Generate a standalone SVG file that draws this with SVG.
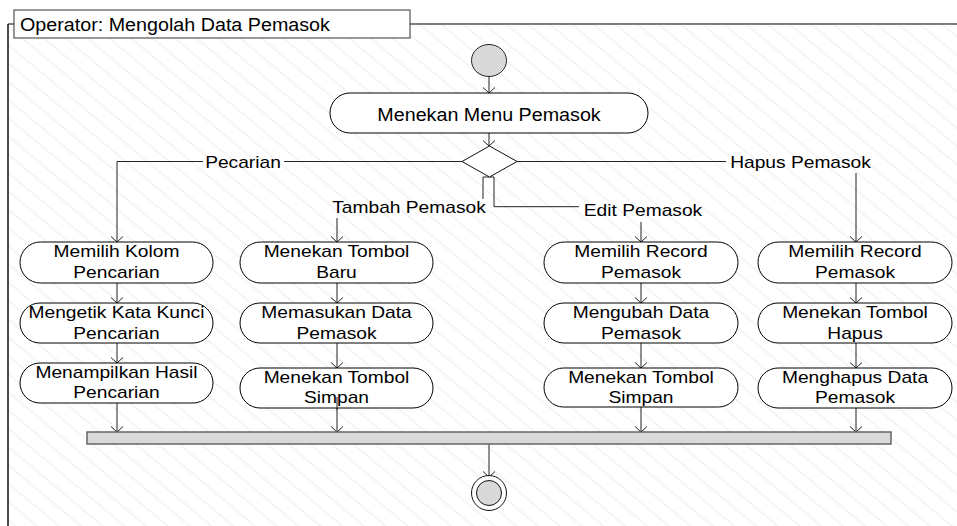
<svg xmlns="http://www.w3.org/2000/svg" width="957" height="526" viewBox="0 0 957 526">
<defs>
<pattern id="hatch" width="10" height="14" patternUnits="userSpaceOnUse" patternTransform="rotate(40)">
<line x1="0" y1="1" x2="10" y2="1" stroke="#efefef" stroke-width="1.2"/>
</pattern>
<marker id="arr" markerUnits="userSpaceOnUse" markerWidth="14" markerHeight="14" viewBox="-7 -7 14 14" refX="0" refY="0" orient="auto">
<path d="M-5.5,-6 L0,0 L-5.5,6" fill="none" stroke="#222" stroke-width="1"/>
</marker>
<style>
.node{fill:#fff;stroke:#000;stroke-width:1}
.big{font-family:"Liberation Sans",Arial,sans-serif;font-size:18.5px;fill:#000}
.sm{font-family:"Liberation Sans",Arial,sans-serif;font-size:16px;fill:#000;text-anchor:middle}
.con{fill:none;stroke:#222;stroke-width:1}
.arrow{marker-end:url(#arr)}
</style>
</defs>
<rect x="0" y="0" width="957" height="526" fill="#fff"/>
<rect x="8" y="24" width="949" height="502" fill="url(#hatch)"/>
<g id="frame">
<line x1="8" y1="24" x2="957" y2="24" stroke="#555" stroke-width="1.6"/>
<line x1="8" y1="24" x2="8" y2="526" stroke="#111" stroke-width="1.5"/>
<rect x="14" y="10" width="396" height="28" fill="#fff" stroke="#333" stroke-width="1"/>
<text class="big" transform="translate(20,0) scale(1.065,1)" x="0" y="31.5">Operator: Mengolah Data Pemasok</text>
</g>
<g id="connectors">
<line class="con arrow" x1="489" y1="76.5" x2="489" y2="93"/>
<line class="con arrow" x1="489" y1="133" x2="489" y2="146"/>
<polyline class="con" points="462,161.5 284,161.5"/>
<polyline class="con arrow" points="203,161.5 117,161.5 117,242"/>
<polyline class="con" points="517,161.5 726,161.5"/>
<line class="con arrow" x1="856" y1="173" x2="856" y2="242"/>
<polyline class="con" points="483,199 483,177 494,177 494,206.7 579,206.7"/>
<line class="con arrow" x1="337" y1="218" x2="337" y2="242"/>
<line class="con arrow" x1="641" y1="222" x2="641" y2="242"/>
<line class="con arrow" x1="117" y1="283" x2="117" y2="303"/>
<line class="con arrow" x1="117" y1="343" x2="117" y2="363"/>
<line class="con arrow" x1="117" y1="403" x2="117" y2="432"/>
<line class="con arrow" x1="337" y1="283" x2="337" y2="303"/>
<line class="con arrow" x1="337" y1="343" x2="337" y2="368"/>
<line class="con arrow" x1="337" y1="397" x2="337" y2="432"/>
<line class="con arrow" x1="641" y1="283" x2="641" y2="303"/>
<line class="con arrow" x1="641" y1="343" x2="641" y2="368"/>
<line class="con arrow" x1="641" y1="407" x2="641" y2="432"/>
<line class="con arrow" x1="856" y1="283" x2="856" y2="303"/>
<line class="con arrow" x1="856" y1="343" x2="856" y2="368"/>
<line class="con arrow" x1="856" y1="408" x2="856" y2="432"/>
<line class="con arrow" x1="489" y1="444" x2="489" y2="477"/>
<text class="sm" transform="translate(243,0) scale(1.2,1)" x="0" y="168">Pecarian</text>
<text class="sm" transform="translate(800.5,0) scale(1.2,1)" x="0" y="168">Hapus Pemasok</text>
<text class="sm" transform="translate(409,0) scale(1.2,1)" x="0" y="213.5">Tambah Pemasok</text>
<text class="sm" transform="translate(643,0) scale(1.2,1)" x="0" y="216.5">Edit Pemasok</text>
</g>
<g id="start"><ellipse cx="489" cy="60.5" rx="17.5" ry="16" fill="#d9d9d9" stroke="#222" stroke-width="1"/></g>
<g id="menu">
<rect class="node" x="330" y="93" width="318" height="40" rx="20" ry="20"/>
<text class="big" text-anchor="middle" transform="translate(489,0) scale(1.065,1)" x="0" y="121.5">Menekan Menu Pemasok</text>
</g>
<g id="decision"><polygon points="489.5,146 517,161.5 489.5,177 462,161.5" fill="#fff" stroke="#111" stroke-width="1"/></g>
<g id="n1a"><rect class="node" x="20" y="242" width="193" height="41" rx="20.5"/>
<text class="sm" transform="translate(116.5,0) scale(1.2,1)"><tspan x="0" y="257">Memilih Kolom</tspan><tspan x="0" y="278">Pencarian</tspan></text></g>
<g id="n1b"><rect class="node" x="20" y="303" width="193" height="40" rx="20"/>
<text class="sm" transform="translate(116.5,0) scale(1.2,1)"><tspan x="0" y="318">Mengetik Kata Kunci</tspan><tspan x="0" y="339">Pencarian</tspan></text></g>
<g id="n1c"><rect class="node" x="20" y="363" width="193" height="40" rx="20"/>
<text class="sm" transform="translate(116.5,0) scale(1.2,1)"><tspan x="0" y="378">Menampilkan Hasil</tspan><tspan x="0" y="398.5">Pencarian</tspan></text></g>
<g id="n2a"><rect class="node" x="240" y="242" width="193" height="41" rx="20.5"/>
<text class="sm" transform="translate(336.5,0) scale(1.2,1)"><tspan x="0" y="257">Menekan Tombol</tspan><tspan x="0" y="278">Baru</tspan></text></g>
<g id="n2b"><rect class="node" x="240" y="303" width="193" height="40" rx="20"/>
<text class="sm" transform="translate(336.5,0) scale(1.2,1)"><tspan x="0" y="318">Memasukan Data</tspan><tspan x="0" y="339">Pemasok</tspan></text></g>
<g id="n2c"><rect class="node" x="240" y="368" width="193" height="40" rx="20"/>
<text class="sm" transform="translate(336.5,0) scale(1.2,1)"><tspan x="0" y="383">Menekan Tombol</tspan><tspan x="0" y="403">Simpan</tspan></text></g>
<line class="con" x1="337" y1="397" x2="337" y2="410"/>
<g id="n3a"><rect class="node" x="544" y="242" width="194" height="41" rx="20.5"/>
<text class="sm" transform="translate(641,0) scale(1.2,1)"><tspan x="0" y="257">Memilih Record</tspan><tspan x="0" y="278">Pemasok</tspan></text></g>
<g id="n3b"><rect class="node" x="544" y="303" width="194" height="40" rx="20"/>
<text class="sm" transform="translate(641,0) scale(1.2,1)"><tspan x="0" y="318">Mengubah Data</tspan><tspan x="0" y="339">Pemasok</tspan></text></g>
<g id="n3c"><rect class="node" x="544" y="368" width="194" height="39" rx="19.5"/>
<text class="sm" transform="translate(641,0) scale(1.2,1)"><tspan x="0" y="383">Menekan Tombol</tspan><tspan x="0" y="403">Simpan</tspan></text></g>
<g id="n4a"><rect class="node" x="758" y="242" width="194" height="41" rx="20.5"/>
<text class="sm" transform="translate(855,0) scale(1.2,1)"><tspan x="0" y="257">Memilih Record</tspan><tspan x="0" y="278">Pemasok</tspan></text></g>
<g id="n4b"><rect class="node" x="758" y="303" width="194" height="40" rx="20"/>
<text class="sm" transform="translate(855,0) scale(1.2,1)"><tspan x="0" y="318">Menekan Tombol</tspan><tspan x="0" y="339">Hapus</tspan></text></g>
<g id="n4c"><rect class="node" x="758" y="368" width="194" height="40" rx="20"/>
<text class="sm" transform="translate(855,0) scale(1.2,1)"><tspan x="0" y="383">Menghapus Data</tspan><tspan x="0" y="403">Pemasok</tspan></text></g>
<g id="join"><rect x="87" y="432" width="804" height="12" fill="#d9d9d9" stroke="#666" stroke-width="1.5"/></g>
<g id="end">
<circle cx="489" cy="493" r="17.5" fill="#fff" stroke="#111" stroke-width="1"/>
<circle cx="489" cy="493" r="12.5" fill="#d9d9d9" stroke="#111" stroke-width="1"/>
</g>
</svg>
